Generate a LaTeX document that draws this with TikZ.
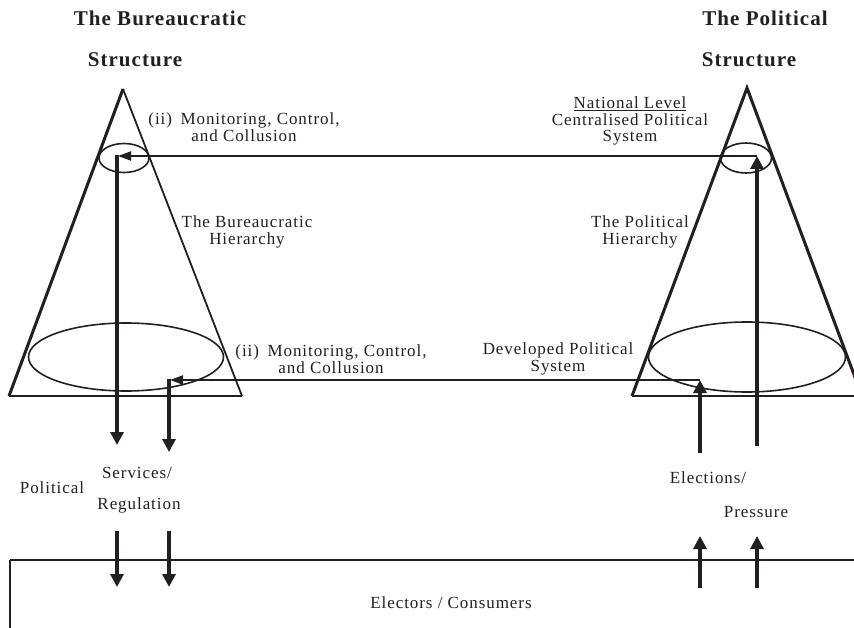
\documentclass[tikz,border=0pt]{standalone}
\usepackage{fontspec}
\setmainfont{Liberation Serif}
\newfontfamily\bodyfont[LetterSpace=5.5]{Liberation Serif}
\newfontfamily\headfont[LetterSpace=5]{Liberation Serif}
\usetikzlibrary{arrows.meta,shapes.geometric}
\definecolor{ink}{HTML}{231F20}
\begin{document}
\begin{tikzpicture}[x=1pt,y=-1pt,
  lbl/.style={font=\bodyfont\fontsize{17}{16.5}\selectfont, align=center, inner sep=0pt, text=ink},
  head/.style={font=\headfont\bfseries\fontsize{21}{22}\selectfont, inner sep=0pt, text=ink},
  ell/.style={draw=ink, ellipse, line width=1.6pt, inner sep=0pt},
  conn/.style={draw=ink, line width=2pt, -{Triangle[length=13pt,width=9pt]}},
  flow/.style={draw=ink, line width=3.2pt, -{Triangle[length=13pt,width=13pt]}},
]
\useasboundingbox (0,0) rectangle (854,628);
\clip (0,0) rectangle (854,628);

% left cone
\coordinate (LA) at (123,89);
\coordinate (LBL) at (9,396);
\coordinate (LBR) at (242,396);
\draw[ink, line width=3pt] (LBL) -- (LA);
\draw[ink, line width=1.8pt] (LA) -- (LBR);
\draw[ink, line width=1.5pt] (LBL) -- (LBR);
\node[ell, minimum width=50pt, minimum height=29pt] (lse) at (124,158) {};
\node[ell, minimum width=195pt, minimum height=68pt] (lbe) at (126,357) {};

% right cone
\coordinate (RA) at (747,88);
\coordinate (RBL) at (632,396);
\coordinate (RBR) at (862,396);
\draw[ink, line width=3pt] (RBL) -- (RA) -- (RBR);
\draw[ink, line width=1.5pt] (RBL) -- (RBR);
\node[ell, minimum width=51pt, minimum height=30pt] (rse) at (746,158) {};
\node[ell, minimum width=197pt, minimum height=70pt] (rbe) at (747,357) {};

% upper flow
\coordinate (u1) at (757,446);
\coordinate (u2) at (757,156);
\coordinate (u3) at (118,156);
\coordinate (u4) at (117,155);
\coordinate (u5) at (117,445);
\draw[flow] (u1) -- (u2);
\draw[conn] (u2) -- (u3);
\draw[flow] (u4) -- (u5);

% lower flow
\coordinate (l1) at (700,453);
\coordinate (l2) at (700,380);
\coordinate (l3) at (170,380);
\coordinate (l4) at (169,379);
\coordinate (l5) at (169,452);
\draw[flow] (l1) -- (l2);
\draw[conn] (l2) -- (l3);
\draw[flow] (l4) -- (l5);

% bottom arrows
\coordinate (b1s) at (117,531); \coordinate (b1e) at (117,587);
\coordinate (b2s) at (169,531); \coordinate (b2e) at (169,587);
\coordinate (b3s) at (700,588); \coordinate (b3e) at (700,536);
\coordinate (b4s) at (757,588); \coordinate (b4e) at (757,536);
\draw[flow] (b1s) -- (b1e);
\draw[flow] (b2s) -- (b2e);
\draw[flow] (b3s) -- (b3e);
\draw[flow] (b4s) -- (b4e);

% electors box
\coordinate (eb1) at (10,640);
\coordinate (eb2) at (10,560);
\coordinate (eb3) at (870,560);
\draw[ink, line width=2.4pt] (eb1) -- (eb2);
\draw[ink, line width=1.5pt] (eb2) -- (eb3);

% headings
\node[head] (h1) at (160,18) {The Bureaucratic};
\node[head] (h2) at (135,60) {Structure};
\node[head] (h3) at (765,18) {The Political};
\node[head] (h4) at (749,60) {Structure};

% labels
\node[lbl] (mc1) at (244,127) {(ii)\enspace Monitoring, Control,\\and Collusion};
\node[lbl] (mc2) at (331,359) {(ii)\enspace Monitoring, Control,\\and Collusion};
\node[lbl] (bh) at (247,232) {The Bureaucratic\\Hierarchy};
\node[lbl] (ph) at (640,232) {The Political\\Hierarchy};
\node[lbl] (dps) at (558,359) {Developed Political\\System};
\node[lbl] (nl) at (630,121) {\underline{National Level}\\Centralised Political\\System};
\node[lbl] (pol) at (52,488) {Political};
\node[lbl] (sv) at (137,473) {Services/};
\node[lbl] (rg) at (139,505) {Regulation};
\node[lbl] (el) at (708,478) {Elections/};
\node[lbl] (pr) at (756,512) {Pressure};
\node[lbl] (ec) at (451,603) {Electors / Consumers};
\end{tikzpicture}
\end{document}
